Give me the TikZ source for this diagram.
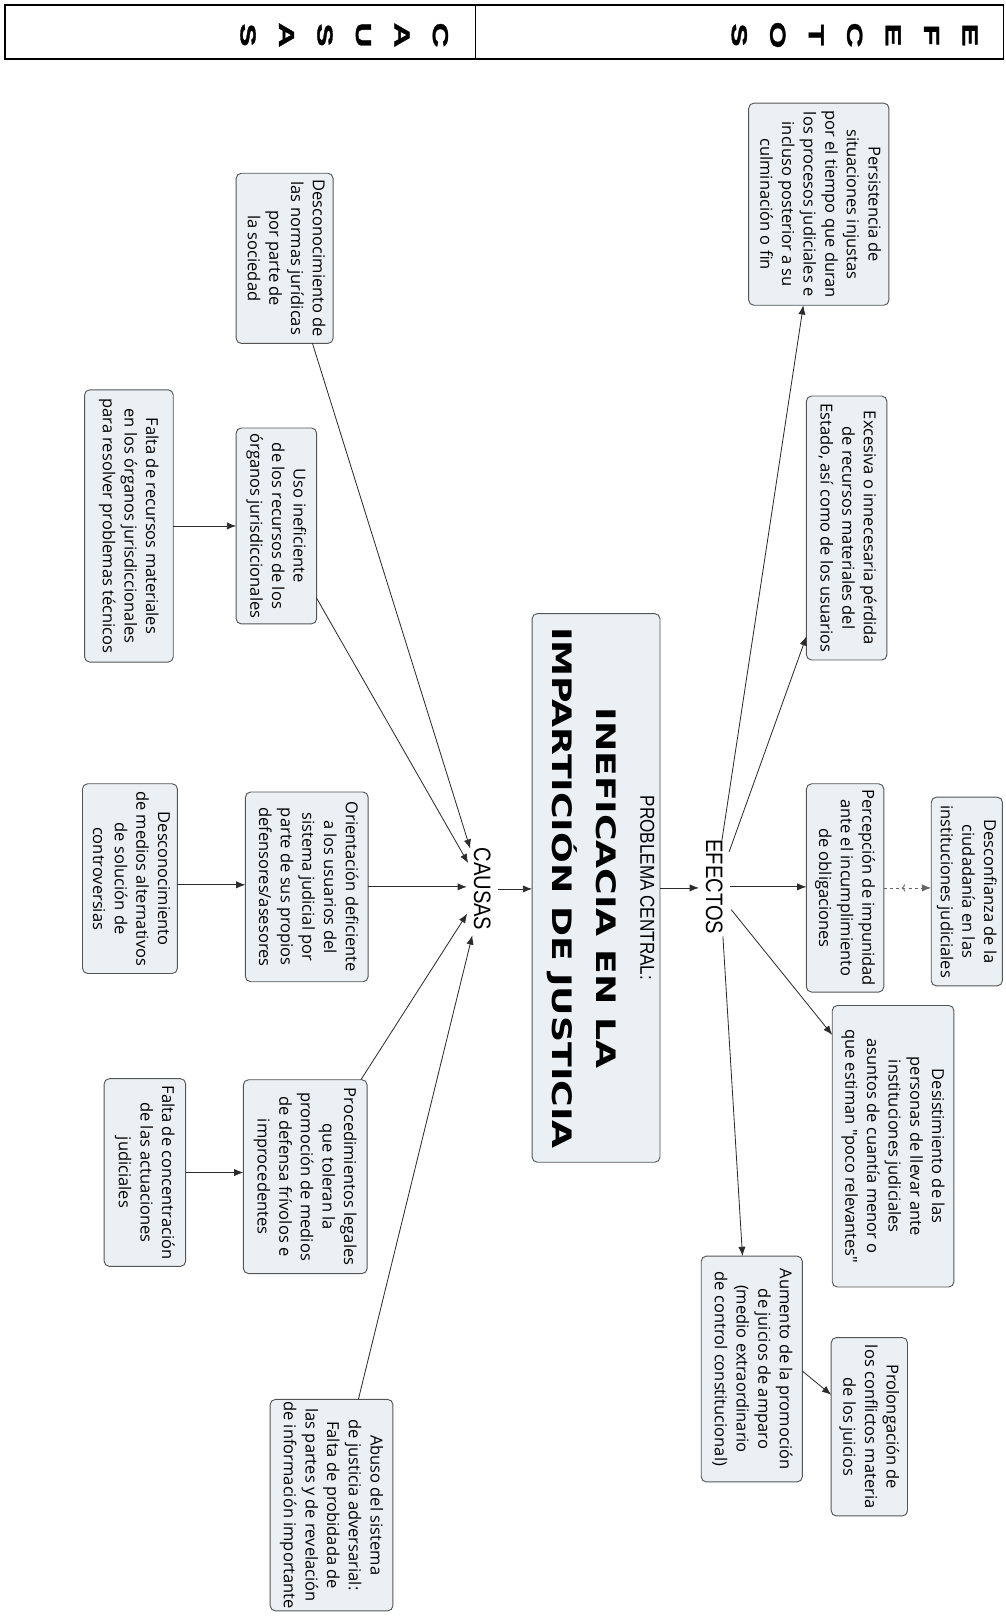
\documentclass[tikz,border=0pt]{standalone}
\usepackage{fontspec}
\setmainfont{Open Sans}[Ligatures=TeXOff]
\newfontfamily\titlefont{DejaVu Sans Bold}[FakeStretch=1.35]
\newfontfamily\labfont{Liberation Sans}[FakeStretch=0.85]
\newfontfamily\hdrfont{Liberation Sans Bold}[FakeStretch=1.6,FakeBold=1.5]
\usetikzlibrary{arrows.meta,calc,decorations.markings}
\definecolor{boxfill}{HTML}{EAF0F4}
\definecolor{boxline}{HTML}{555555}
\definecolor{linec}{HTML}{2B2B2B}
\newcommand\rtext[1]{\rotatebox{-90}{\begin{tabular}{@{}c@{}}#1\end{tabular}}}
\newcommand\rlab[2]{\rotatebox{-90}{\raisebox{0pt}[#1][0pt]{#2}}}
\begin{document}
\begin{tikzpicture}[x=1pt,y=-1pt,
  box/.style={draw=boxline, fill=boxfill, rounded corners=5pt, line width=0.9pt,
    inner sep=0pt, outer sep=0pt, font=\fontsize{16}{21}\selectfont},
  arr/.style={draw=linec, line width=0.8pt, -{Latex[length=9pt,width=7pt]}},
  lab/.style={inner ysep=0pt, inner xsep=7pt, outer sep=0pt, font=\labfont\fontsize{23}{23}\selectfont},
  hdr/.style={draw=black, line width=1.5pt, inner sep=0pt, outer sep=0pt},
  hdrtxt/.style={inner sep=0pt, font=\hdrfont\fontsize{21}{37.3}\selectfont},
  ttl/.style={inner sep=0pt, font=\titlefont\fontsize{26}{30}\selectfont}
]
\useasboundingbox (0,0) rectangle (975,1568);

% header
\node[hdr, minimum width=456pt, minimum height=52pt] (hC) at (233,31) {};
\node[hdr, minimum width=512pt, minimum height=52pt] (hE) at (717,31) {};
\node[hdrtxt] (hCt) at (334,34) {\rotatebox{-90}{\begin{tabular}{@{}c@{}}C\\A\\U\\S\\A\\S\end{tabular}}};
\node[hdrtxt] (hEt) at (829,34) {\rotatebox{-90}{\begin{tabular}{@{}c@{}}E\\F\\E\\C\\T\\O\\S\end{tabular}}};

% central problem
\node[box, minimum width=124pt, minimum height=532pt] (P) at (578,861) {};
\node[inner sep=0pt, font=\labfont\fontsize{19.5}{20}\selectfont] (Pa) at (628,861) {\rlab{14pt}{PROBLEMA CENTRAL:}};
\node[ttl] (Pb) at (588,861) {\rlab{19pt}{INEFICACIA EN LA}};
\node[ttl] (Pc) at (545,861) {\rlab{19pt}{IMPARTICIÓN DE JUSTICIA}};

\node[lab] (CA) at (468,862) {\rlab{16.5pt}{CAUSAS}};
\node[lab] (EF) at (693,860) {\rlab{16.5pt}{EFECTOS}};

% effects
\node[box, minimum width=136pt, minimum height=196pt] (E1) at (794,198) {\rtext{Persistencia de\\situaciones injustas\\por el tiempo que duran\\los procesos judiciales e\\incluso posterior a su\\culminación o fin}};
\node[box, minimum width=78pt, minimum height=256pt] (E2) at (821,512) {\rtext{Excesiva o innecesaria pérdida\\de recursos materiales del\\Estado, así como de los usuarios}};
\node[box, minimum width=75pt, minimum height=202pt] (E3) at (819.5,861) {\rtext{Percepción de impunidad\\ante el incumplimiento\\de obligaciones}};
\node[box, minimum width=69pt, minimum height=183pt] (E4) at (937.5,864.5) {\rtext{Desconfianza de la\\ciudadanía en las\\instituciones judiciales}};
\node[box, minimum width=118pt, minimum height=273pt] (E5) at (866,1111.5) {\rtext{Desistimiento de las\\personas de llevar ante\\instituciones judiciales\\asuntos de cuantía menor o\\que estiman "poco relevantes"}};
\node[box, minimum width=98pt, minimum height=219pt] (E6) at (729,1327.5) {\rtext{Aumento de la promoción\\de juicios de amparo\\(medio extraordinario\\de control constitucional)}};
\node[box, minimum width=74pt, minimum height=173pt] (E7) at (843,1383.5) {\rtext{Prolongación de\\los conflictos materia\\de los juicios}};

% causes
\node[box, minimum width=94pt, minimum height=165pt] (C1) at (276,250.5) {\rtext{Desconocimiento de\\las normas jurídicas\\por parte de\\la sociedad}};
\node[box, minimum width=78pt, minimum height=190pt] (C2) at (268,510) {\rtext{Uso ineficiente\\de los recursos de los\\órganos jurisdiccionales}};
\node[box, minimum width=86pt, minimum height=264pt] (C3) at (125,510) {\rtext{Falta de recursos materiales\\en los órganos jurisdiccionales\\para resolver problemas técnicos}};
\node[box, minimum width=119pt, minimum height=184pt] (C4) at (297.5,860) {\rtext{Orientación deficiente\\a los usuarios del\\sistema judicial por\\parte de sus propios\\defensores/asesores}};
\node[box, minimum width=92pt, minimum height=184pt] (C5) at (126,852) {\rtext{Desconocimiento\\de medios alternativos\\de solución de\\controversias}};
\node[box, minimum width=120pt, minimum height=188pt] (C6) at (296,1141) {\rtext{Procedimientos legales\\que toleran la\\promoción de medios\\de defensa frívolos e\\improcedentes}};
\node[box, minimum width=79pt, minimum height=182pt] (C7) at (140.5,1137) {\rtext{Falta de concentración\\de las actuaciones\\judiciales}};
\node[box, minimum width=119pt, minimum height=205pt] (C8) at (321.5,1459.5) {\rtext{Abuso del sistema\\de justicia adversarial:\\Falta de probidada de\\las partes y de revelación\\de información importante}};

% connectors: causes
\draw[arr] ($(C1.south)+(27,0)$) -- ($(CA)+(-12,-39)$);
\draw[arr] ($(C2.east)+(0,70)$) -- ($(CA)+(-14,-25)$);
\draw[arr] (C3.east) -- (C3.east -| C2.west);
\draw[arr] (C4.east) -- (C4.east -| CA.west);
\coordinate (c5o) at ($(C5.east)+(0,6)$);
\draw[arr] (c5o) -- (c5o -| C4.west);
\draw[arr] ($(C6.north)+(54,0)$) -- ($(CA)+(-15,24)$);
\draw[arr] (C7.east) -- (C7.east -| C6.west);
\draw[arr] ($(C8.north)+(26,0)$) -- ($(CA)+(-10,45)$);
\draw[arr] (CA.east) -- (CA.east -| P.west);
\draw[arr] (P.east) -- (P.east -| EF.west);

% connectors: effects
\draw[arr] ($(EF)+(7,-45)$) -- ($(E1.south)+(-15,0)$);
\draw[arr] ($(EF)+(14,-34)$) -- ($(E2.west)+(0,105)$);
\draw[arr] (EF.east) -- (EF.east -| E3.west);
\draw[arr, dashed, draw=gray!80!black, postaction={decorate},
  decoration={markings, mark=at position 0.45 with {\arrow[solid]{<}}}] (E3.east) -- (E3.east -| E4.west);
\draw[arr] ($(EF)+(16,22)$) -- ($(E5.west)+(0,-108)$);
\draw[arr] ($(EF)+(8,48)$) -- ($(E6.north)+(-9,0)$);
\draw[arr] ($(E6.east)+(0,2)$) -- ($(E7.west)+(0,-31)$);
\end{tikzpicture}
\end{document}
